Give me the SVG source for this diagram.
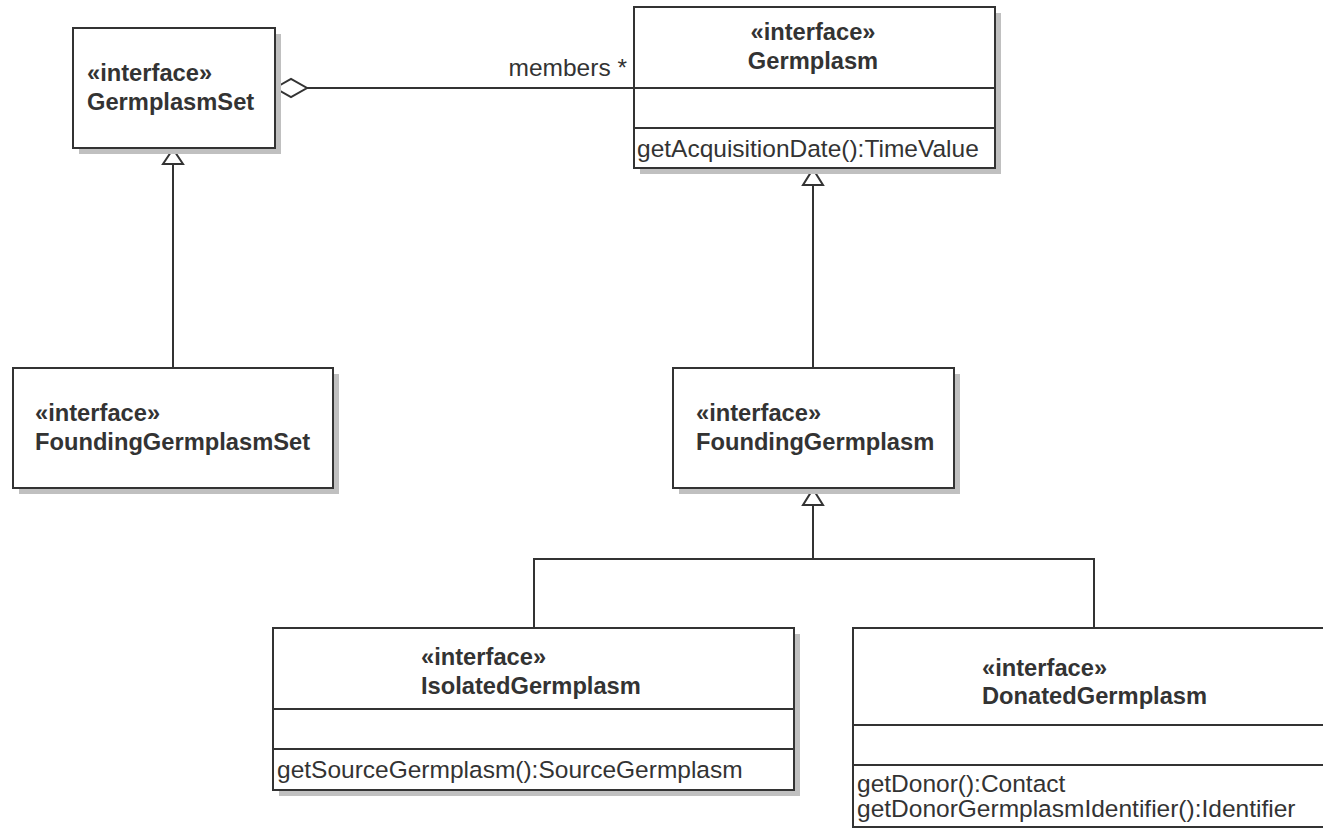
<svg xmlns="http://www.w3.org/2000/svg" width="1323" height="829" viewBox="0 0 1323 829">
  <style>
    .shadow { fill: #c0c0c0; stroke: none; }
    .box { fill: #ffffff; stroke: #333333; stroke-width: 2; }
    .sep { stroke: #333333; stroke-width: 2; }
    .edge { fill: none; stroke: #333333; stroke-width: 2; }
    .head { fill: #ffffff; stroke: #333333; stroke-width: 2; }
    .stereo, .name { font-family: "Liberation Sans", Arial, sans-serif; font-weight: bold; font-size: 23.7px; fill: #333333; }
    .op, .role { font-family: "Liberation Sans", Arial, sans-serif; font-size: 24.5px; fill: #333333; }
  </style>

  <!-- generalization / aggregation connectors -->
  <g id="connectors">
    <!-- GermplasmSet <>— members * Germplasm -->
    <line class="edge" x1="307" y1="88" x2="634" y2="88"/>
    <polygon class="head" points="275,88 291,79 307,88 291,97"/>
    <text class="role" x="627" y="76" text-anchor="end">members *</text>

    <!-- FoundingGermplasmSet extends GermplasmSet -->
    <line class="edge" x1="173" y1="164" x2="173" y2="368"/>
    <polygon class="head" points="173,149 183,164 163,164"/>

    <!-- FoundingGermplasm extends Germplasm -->
    <line class="edge" x1="813" y1="185" x2="813" y2="368"/>
    <polygon class="head" points="813,169 823,185 803,185"/>

    <!-- Isolated / Donated extend FoundingGermplasm -->
    <polyline class="edge" points="813,505 813,559"/>
    <polyline class="edge" points="534,628 534,559 1094,559 1094,628"/>
    <polygon class="head" points="813,489 823,505 803,505"/>
  </g>

  <g id="GermplasmSet">
    <rect class="shadow" x="79" y="34" width="202" height="120"/>
    <rect class="box" x="73" y="28" width="202" height="120"/>
    <text class="stereo" x="87" y="81">«interface»</text>
    <text class="name" x="87" y="110">GermplasmSet</text>
  </g>

  <g id="Germplasm">
    <rect class="shadow" x="640" y="13" width="361" height="161"/>
    <rect class="box" x="634" y="7" width="361" height="161"/>
    <line class="sep" x1="634" y1="88" x2="995" y2="88"/>
    <line class="sep" x1="634" y1="128" x2="995" y2="128"/>
    <text class="stereo" x="813" y="40" text-anchor="middle">«interface»</text>
    <text class="name" x="813" y="69" text-anchor="middle">Germplasm</text>
    <text class="op" x="637" y="157">getAcquisitionDate():TimeValue</text>
  </g>

  <g id="FoundingGermplasmSet">
    <rect class="shadow" x="19" y="374" width="320" height="120"/>
    <rect class="box" x="13" y="368" width="320" height="120"/>
    <text class="stereo" x="35" y="421">«interface»</text>
    <text class="name" x="35" y="450">FoundingGermplasmSet</text>
  </g>

  <g id="FoundingGermplasm">
    <rect class="shadow" x="679" y="374" width="281" height="120"/>
    <rect class="box" x="673" y="368" width="281" height="120"/>
    <text class="stereo" x="696" y="421">«interface»</text>
    <text class="name" x="696" y="450">FoundingGermplasm</text>
  </g>

  <g id="IsolatedGermplasm">
    <rect class="shadow" x="279" y="634" width="521" height="162"/>
    <rect class="box" x="273" y="628" width="521" height="162"/>
    <line class="sep" x1="273" y1="709" x2="794" y2="709"/>
    <line class="sep" x1="273" y1="749" x2="794" y2="749"/>
    <text class="stereo" x="421" y="665">«interface»</text>
    <text class="name" x="421" y="694">IsolatedGermplasm</text>
    <text class="op" x="277" y="778">getSourceGermplasm():SourceGermplasm</text>
  </g>

  <g id="DonatedGermplasm">
    <rect class="box" x="853" y="628" width="480" height="199"/>
    <line class="sep" x1="853" y1="725" x2="1333" y2="725"/>
    <line class="sep" x1="853" y1="765" x2="1333" y2="765"/>
    <text class="stereo" x="982" y="676">«interface»</text>
    <text class="name" x="982" y="704">DonatedGermplasm</text>
    <text class="op" x="857" y="792">getDonor():Contact</text>
    <text class="op" x="857" y="817">getDonorGermplasmIdentifier():Identifier</text>
  </g>
</svg>
